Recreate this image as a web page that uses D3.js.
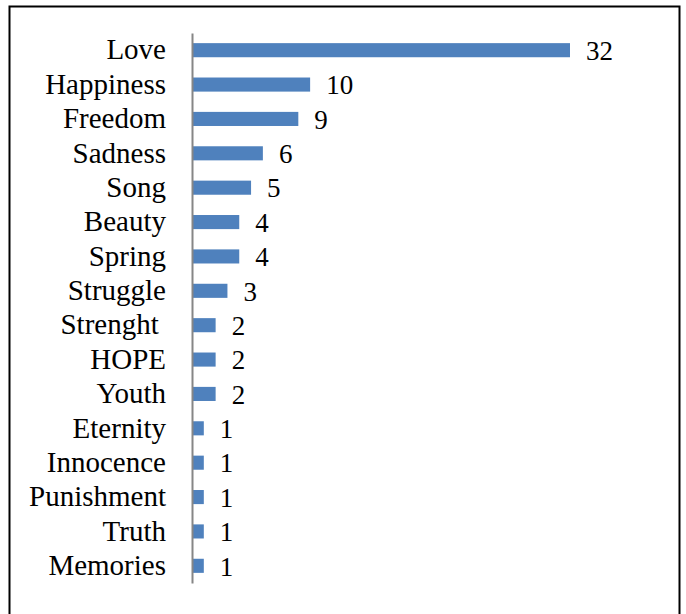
<!DOCTYPE html>
<html><head><meta charset="utf-8">
<script src="https://cdn.jsdelivr.net/npm/d3@7"></script>
<style>body{margin:0;background:#fff}svg{display:block}
svg text{font-family:"Liberation Serif","Times New Roman","DejaVu Serif",serif !important;}</style>
</head><body>
<script>
const categories = ["Love","Happiness","Freedom","Sadness","Song","Beauty","Spring","Struggle","Strenght ","HOPE","Youth","Eternity","Innocence","Punishment","Truth","Memories"];
const values = [32,10,9,6,5,4,4,3,2,2,2,1,1,1,1,1];

const W = 686, H = 614;
const svg = d3.select("body").append("svg").attr("width", W).attr("height", H);
svg.append("rect").attr("x", 9.5).attr("y", 6.5).attr("width", 670).attr("height", 620)
  .attr("fill", "none").attr("stroke", "#000").attr("stroke-width", 2);

const x0 = 192;
const x = d3.scaleLinear().domain([0, 32]).range([x0, 570]);
const y = d3.scaleBand().domain(categories).range([33, 583]).paddingInner(0.59).paddingOuter(0.295);

const g = svg.append("g");
g.selectAll("rect.bar").data(values).join("rect").attr("class","bar")
  .attr("x", x0).attr("y", (d,i) => y(categories[i]))
  .attr("width", d => x(d) - x0).attr("height", y.bandwidth())
  .attr("fill", "#4f81bd");

const yAxis = d3.axisLeft(y).tickSize(0).tickPadding(26);
const ax = svg.append("g").attr("transform", `translate(${x0},0)`).call(yAxis);
ax.attr("font-family", null);
ax.select(".domain").attr("stroke", "#868686").attr("stroke-width", 2);
ax.selectAll("text").attr("font-size", 29).attr("fill", "#000").style("white-space","pre");

g.selectAll("text.val").data(values).join("text").attr("class","val")
  .attr("x", d => x(d) + 16).attr("y", (d,i) => y(categories[i]) + y.bandwidth()/2)
  .attr("dy", "0.36em")
  .attr("font-size", 27).attr("fill", "#000").text(d => d);
</script>
</body></html>
